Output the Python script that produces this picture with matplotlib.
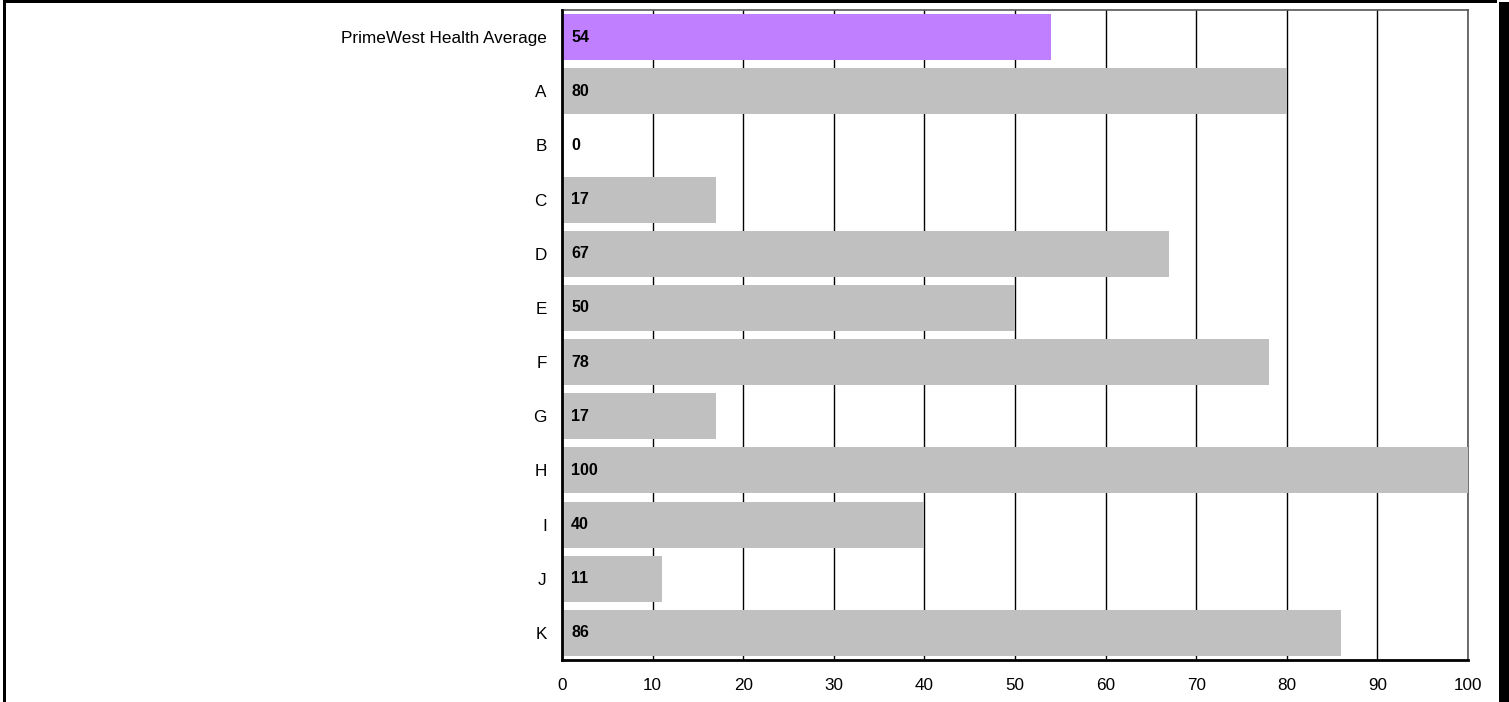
import matplotlib
matplotlib.use("Agg")
import matplotlib.pyplot as plt
from matplotlib.patches import Rectangle

categories = ["PrimeWest Health Average", "A", "B", "C", "D", "E", "F", "G", "H", "I", "J", "K"]
values = [54, 80, 0, 17, 67, 50, 78, 17, 100, 40, 11, 86]
bar_colors = ["#BF7FFF"] + ["#C0C0C0"] * 11
x_ticks = list(range(0, 101, 10))

plt.rcParams["font.family"] = ["Liberation Sans", "DejaVu Sans"]

fig = plt.figure(figsize=(15.09, 7.02), dpi=100)
ax = fig.add_axes([562 / 1509, 1 - 660 / 702, (1468 - 562) / 1509, (660 - 10) / 702])

ypos = list(range(len(categories)))
ax.barh(ypos, values, height=0.85, color=bar_colors, zorder=3)
for y, v in zip(ypos, values):
    ax.text(1.0, y, f"{v}", va="center", ha="left", fontsize=11.5,
            fontweight="bold", color="black", zorder=4)

ax.set_xlim(0, 100)
ax.set_ylim(len(categories) - 0.5, -0.5)
ax.set_xticks(x_ticks)
ax.set_yticks(ypos)
ax.set_yticklabels(categories)
ax.tick_params(axis="both", length=0, labelsize=12.3)
ax.tick_params(axis="y", pad=11)
ax.tick_params(axis="x", pad=13)
ax.grid(axis="x", color="black", linewidth=1, zorder=1)
ax.set_axisbelow(True)

for side in ("left", "bottom"):
    ax.spines[side].set_color("black")
    ax.spines[side].set_linewidth(2)
    ax.spines[side].set_zorder(5)
for side in ("top", "right"):
    ax.spines[side].set_color("#555555")
    ax.spines[side].set_linewidth(1.2)

# page frame
frame = dict(transform=fig.transFigure, facecolor="black", edgecolor="none", clip_on=False)
fig.patches.append(Rectangle((3 / 1509, 0), 3 / 1509, 1, **frame))
fig.patches.append(Rectangle((3 / 1509, 1 - 3 / 702), 1494 / 1509, 3 / 702, **frame))
fig.patches.append(Rectangle((1499 / 1509, 0), 10 / 1509, 1 - 2 / 702, **frame))

fig.savefig("out.png", dpi=100)
